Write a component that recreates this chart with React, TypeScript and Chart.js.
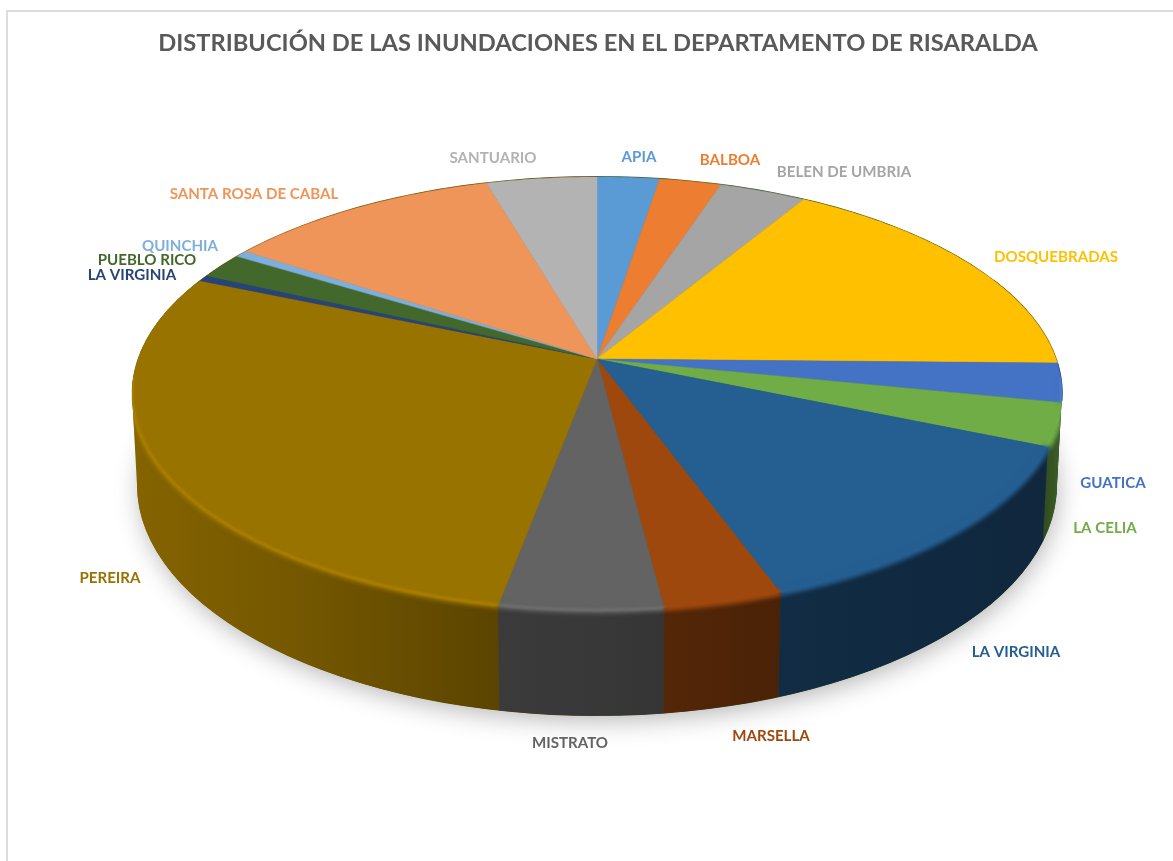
import React, { useEffect, useRef } from "react";
import { Chart, registerables } from "chart.js";

Chart.register(...registerables);

const titleText = "DISTRIBUCIÓN DE LAS INUNDACIONES EN EL DEPARTAMENTO DE RISARALDA";
const categories = ["APIA","BALBOA","BELEN DE UMBRIA","DOSQUEBRADAS","GUATICA","LA CELIA","LA VIRGINIA","MARSELLA","MISTRATO","PEREIRA","LA VIRGINIA","PUEBLO RICO","QUINCHIA","SANTA ROSA DE CABAL","SANTUARIO"];
const values = [9.1,9,12.7,60.3,10.5,11.4,47.2,12.8,17.5,102.8,1.7,6.9,1.9,40.2,16.1];
const colors = ["#5B9BD5","#ED7D31","#A5A5A5","#FFC000","#4472C4","#70AD47","#255E91","#9E480E","#636363","#997300","#264478","#43682B","#7CAFDD","#EF9559","#B3B3B3"];
const labelX = [639,730,844,1056,1113,1105,1016,771,570,110,132,147,180,254,493];
const labelY = [157,160,172,257,483,528,652,736,743,578,275,260,246,194,158];

const K = 0.159;
const CX = 597;
const topPlane = { R: 459, S: 211, ay: 359 };
const basePlane = { R: 454, S: 225, ay: 448 };
const shadeX = [137, 300, 490, 600, 780, 1042, 1060];
const shadeF = [0.86, 0.76, 0.6, 0.57, 0.47, 0.42, 0.55];

type Plane = { R: number; S: number; ay: number };
const project = (p: Plane, angle: number): [number, number] => {
  const phi = angle + Math.PI / 2;
  const u = Math.sin(phi), v = -Math.cos(phi), d = 1 - K * v;
  return [CX + (p.R * u) / d, p.ay + (p.S * v) / d];
};
const rgb = (hex: string) => [1, 3, 5].map((i) => parseInt(hex.slice(i, i + 2), 16));
const scaled = (hex: string, f: number) => `rgb(${rgb(hex).map((c) => Math.min(255, Math.round(c * f))).join(",")})`;
const samples = (a: number, b: number) => {
  const n = Math.max(2, Math.ceil((b - a) / 0.01));
  return Array.from({ length: n + 1 }, (_, i) => a + ((b - a) * i) / n);
};
const silhouette = (ctx: CanvasRenderingContext2D) => {
  ctx.beginPath();
  ctx.ellipse(CX, 393, 465, 217, 0, Math.PI, Math.PI * 2);
  ctx.lineTo(CX + 460, 485);
  ctx.ellipse(CX, 485, 460, 231, 0, 0, Math.PI);
  ctx.closePath();
};
const wallGradient = (ctx: CanvasRenderingContext2D, hex: string) => {
  const grad = ctx.createLinearGradient(shadeX[0], 0, shadeX[shadeX.length - 1], 0);
  const span = shadeX[shadeX.length - 1] - shadeX[0];
  shadeX.forEach((x, j) => grad.addColorStop((x - shadeX[0]) / span, scaled(hex, shadeF[j])));
  return grad;
};

const pie3d = {
  id: "pie3d",
  beforeDraw(chart: any) {
    const { ctx, width, height } = chart;
    ctx.save();
    ctx.strokeStyle = "#dcdcdc";
    ctx.lineWidth = 2;
    ctx.beginPath();
    ctx.moveTo(7, height + 2);
    ctx.lineTo(7, 11);
    ctx.lineTo(width + 2, 11);
    ctx.stroke();
    ctx.restore();
  },
  beforeDatasetDraw(chart: any, args: any) {
    const ctx = chart.ctx as CanvasRenderingContext2D;
    const arcs = chart.getDatasetMeta(args.index).data;

    // cast shadow
    ctx.save();
    ctx.shadowColor = "rgba(0,0,0,0.3)";
    ctx.shadowBlur = 26;
    ctx.shadowOffsetY = 6;
    ctx.shadowOffsetX = 2;
    ctx.fillStyle = "#555";
    ctx.beginPath();
    ctx.ellipse(CX, 485, 458, 229, 0, 0, Math.PI * 2);
    ctx.fill();
    ctx.restore();

    // the outline's flanks take the colour of the slice that faces sideways
    const sliceAt = (angle: number) => {
      const i = arcs.findIndex((a: any) => a.startAngle <= angle && angle < a.endAngle);
      return i < 0 ? 0 : i;
    };
    const flanks: [number, number, number][] = [
      [0, CX, sliceAt(Math.PI * 1.0)],
      [CX, 1173, sliceAt(Math.PI * 0.1)],
    ];
    flanks.forEach(([x0, x1, i]) => {
      ctx.save();
      ctx.beginPath();
      ctx.rect(x0, 0, x1 - x0, 861);
      ctx.clip();
      silhouette(ctx);
      ctx.fillStyle = wallGradient(ctx, colors[i]);
      ctx.fill();
      ctx.restore();
    });

    // side walls, back to front
    const front = (a: number) => -Math.cos(a + Math.PI / 2);
    const order = arcs.map((_: any, i: number) => i).filter((i: number) => {
      const mid = (arcs[i].startAngle + arcs[i].endAngle) / 2;
      return front(arcs[i].startAngle) > -0.3 || front(arcs[i].endAngle) > -0.3 || front(mid) > -0.3;
    });
    order.sort((a: number, b: number) => front((arcs[a].startAngle + arcs[a].endAngle) / 2) - front((arcs[b].startAngle + arcs[b].endAngle) / 2));
    ctx.save();
    silhouette(ctx);
    ctx.clip();
    for (const i of order) {
      const arc = arcs[i];
      const pts = samples(arc.startAngle, arc.endAngle);
      const grad = wallGradient(ctx, colors[i]);
      ctx.beginPath();
      pts.forEach((a, j) => {
        const [x, y] = project(topPlane, a);
        if (j) ctx.lineTo(x, y);
        else ctx.moveTo(x, y);
      });
      [...pts].reverse().forEach((a) => {
        const [x, y] = project(basePlane, a);
        ctx.lineTo(x, y);
      });
      ctx.closePath();
      ctx.fillStyle = grad;
      ctx.strokeStyle = grad;
      ctx.lineWidth = 0.6;
      ctx.fill();
      ctx.stroke();
    }
    ctx.restore();

    // thin dark edge where the wall just shows on the flanks
    arcs.forEach((arc: any, i: number) => {
      const pts = samples(arc.startAngle, arc.endAngle).filter((a) => front(a) > -0.4 && front(a) < 0.2 && project(topPlane, a)[0] > CX);
      if (pts.length < 2) return;
      ctx.beginPath();
      pts.forEach((a, j) => {
        const [x, y] = project(topPlane, a);
        if (j) ctx.lineTo(x, y);
        else ctx.moveTo(x, y);
      });
      ctx.strokeStyle = scaled(colors[i], 0.5);
      ctx.lineWidth = 1.6;
      ctx.stroke();
    });

    // top faces
    arcs.forEach((arc: any, i: number) => {
      ctx.beginPath();
      ctx.moveTo(CX, topPlane.ay);
      samples(arc.startAngle, arc.endAngle).forEach((a) => {
        const [x, y] = project(topPlane, a);
        ctx.lineTo(x, y);
      });
      ctx.closePath();
      ctx.fillStyle = colors[i];
      ctx.strokeStyle = colors[i];
      ctx.lineWidth = 0.5;
      ctx.fill();
      ctx.stroke();
    });

    // soft bevel along the front rim, kept inside the pie outline
    ctx.save();
    silhouette(ctx);
    ctx.clip();
    arcs.forEach((arc: any, i: number) => {
      const pts = samples(arc.startAngle, arc.endAngle).filter((a) => front(a) > 0.08);
      if (pts.length < 2) return;
      const line = () => {
        ctx.beginPath();
        pts.forEach((a, j) => {
          const [x, y] = project(topPlane, a);
          if (j) ctx.lineTo(x, y);
          else ctx.moveTo(x, y);
        });
      };
      const noGlow = i === 6 || i === 5 || i === 7;
      ctx.save();
      ctx.filter = "blur(2px)";
      line();
      ctx.strokeStyle = colors[i];
      ctx.lineWidth = 7;
      ctx.stroke();
      if (!noGlow) {
        ctx.filter = "blur(1px)";
        line();
        ctx.strokeStyle = scaled(colors[i], 1.13);
        ctx.lineWidth = 2.5;
        ctx.stroke();
      }
      ctx.restore();
    });
    ctx.restore();
    return false;
  },
  afterDraw(chart: any) {
    const ctx = chart.ctx as CanvasRenderingContext2D;
    ctx.save();
    ctx.font = "bold 15.1px Lato";
    ctx.textAlign = "center";
    ctx.textBaseline = "middle";
    categories.forEach((name, i) => {
      ctx.fillStyle = colors[i];
      ctx.fillText(name, labelX[i], labelY[i]);
    });
    ctx.restore();
  },
};

export default function App() {
  const ref = useRef<HTMLCanvasElement | null>(null);
  useEffect(() => {
    document.body.style.margin = "0";
    const chart = new Chart(ref.current as HTMLCanvasElement, {
      type: "pie",
      data: {
        labels: categories,
        datasets: [{ data: values, backgroundColor: colors, borderWidth: 0 }],
      },
      options: {
        responsive: false,
        animation: false,
        layout: { padding: { left: 23 } },
        plugins: {
          legend: { display: false },
          tooltip: { enabled: false },
          title: {
            display: true,
            text: titleText,
            color: "#595959",
            align: "center",
            font: { family: "Lato", size: 23.7, weight: "bold" },
            padding: { top: 29, bottom: 10 },
          },
        },
      },
      plugins: [pie3d],
    } as any);
    return () => chart.destroy();
  }, []);
  return <canvas ref={ref} width={1173} height={861} style={{ display: "block", width: 1173, height: 861 }} />;
}
